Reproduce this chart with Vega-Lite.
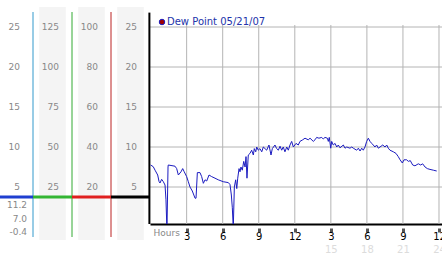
{
  "$schema": "https://vega.github.io/schema/vega-lite/v6.json",
  "padding": 0,
  "spacing": 0,
  "bounds": "flush",
  "background": "white",
  "config": {"view": {"stroke": null}, "font": "DejaVu Sans"},
  "hconcat": [
    {
      "width": 150,
      "height": 224,
      "layer": [
        {
          "layer": [
            {
              "data": {"values": [{"col": "c2"}, {"col": "c3"}, {"col": "c4"}]},
              "mark": {"type": "bar", "color": "#f4f4f4", "width": {"band": 0.68}},
              "encoding": {
                "x": {"field": "col", "type": "nominal", "scale": {"domain": ["c1", "c2", "c3", "c4"], "range": [-6, 150], "paddingInner": 0, "paddingOuter": 0}, "axis": null},
                "y": {"datum": 27.5, "type": "quantitative", "scale": {"domain": [0.375, 28.375], "nice": false, "zero": false}, "axis": null},
                "y2": {"datum": -1.625}
              }
            },
            {
              "data": {"values": [{"col": "c1"}, {"col": "c2"}, {"col": "c3"}]},
              "mark": {"type": "rule", "strokeWidth": 1},
              "encoding": {
                "x": {"field": "col", "type": "nominal", "bandPosition": 1, "axis": null},
                "y": {"datum": 26.875, "type": "quantitative", "axis": null},
                "y2": {"datum": -1.25},
                "stroke": {"field": "col", "type": "nominal", "scale": {"domain": ["c1", "c2", "c3"], "range": ["#3399cc", "#33aa33", "#bb2222"]}, "legend": null}
              }
            },
            {
              "data": {"values": [{"col": "c1"}, {"col": "c2"}, {"col": "c3"}, {"col": "c4"}]},
              "mark": {"type": "bar", "clip": true},
              "encoding": {
                "x": {"field": "col", "type": "nominal", "axis": null},
                "y": {"datum": 3.9375, "type": "quantitative", "axis": null},
                "y2": {"datum": 3.5625},
                "fill": {"field": "col", "type": "nominal", "scale": {"domain": ["c1", "c2", "c3", "c4"], "range": ["#1f3fd0", "#33b533", "#e02020", "#000000"]}, "legend": null}
              }
            },
            {
              "data": {"values": [
                {"col": "c1", "level": 5, "label": "5"}, {"col": "c1", "level": 10, "label": "10"}, {"col": "c1", "level": 15, "label": "15"}, {"col": "c1", "level": 20, "label": "20"}, {"col": "c1", "level": 25, "label": "25"},
                {"col": "c2", "level": 5, "label": "25"}, {"col": "c2", "level": 10, "label": "50"}, {"col": "c2", "level": 15, "label": "75"}, {"col": "c2", "level": 20, "label": "100"}, {"col": "c2", "level": 25, "label": "125"},
                {"col": "c3", "level": 5, "label": "20"}, {"col": "c3", "level": 10, "label": "40"}, {"col": "c3", "level": 15, "label": "60"}, {"col": "c3", "level": 20, "label": "80"}, {"col": "c3", "level": 25, "label": "100"},
                {"col": "c4", "level": 5, "label": "5"}, {"col": "c4", "level": 10, "label": "10"}, {"col": "c4", "level": 15, "label": "15"}, {"col": "c4", "level": 20, "label": "20"}, {"col": "c4", "level": 25, "label": "25"}
              ]},
              "mark": {"type": "text", "align": "right", "baseline": "middle", "fontSize": 9, "color": "#888888"},
              "encoding": {
                "x": {"field": "col", "type": "nominal", "bandPosition": 0.667, "axis": null},
                "y": {"field": "level", "type": "quantitative", "axis": null},
                "text": {"field": "label"}
              }
            }
          ]
        },
        {
          "data": {"values": [{"col": "c1", "order": 0, "label": "11.2"}, {"col": "c1", "order": 1, "label": "7.0"}, {"col": "c1", "order": 2, "label": "-0.4"}]},
          "mark": {"type": "text", "align": "right", "baseline": "middle", "fontSize": 9, "color": "#888888"},
          "encoding": {
            "x": {"field": "col", "type": "nominal", "bandPosition": 0.846, "axis": null},
            "y": {"field": "order", "type": "ordinal", "scale": {"type": "point", "range": [205, 232], "padding": 0}, "axis": null},
            "text": {"field": "label"}
          }
        }
      ],
      "resolve": {"scale": {"y": "independent"}}
    },
    {
      "width": 292,
      "height": 224,
      "layer": [
        {
          "data": {"values": [{"level": 5}, {"level": 10}, {"level": 15}, {"level": 20}, {"level": 25}]},
          "mark": {"type": "rule", "color": "#b4b4b4", "strokeWidth": 1},
          "encoding": {
            "y": {"field": "level", "type": "quantitative", "scale": {"domain": [0.375, 28.375], "nice": false, "zero": false},
              "axis": {"values": [5, 10, 15, 20, 25], "labels": false, "domain": false, "ticks": true, "tickSize": 4, "tickWidth": 3, "tickColor": "#555555", "grid": false, "title": null}}
          }
        },
        {
          "data": {"values": [{"hour": 3}, {"hour": 6}, {"hour": 9}, {"hour": 12}, {"hour": 15}, {"hour": 18}, {"hour": 21}, {"hour": 24}]},
          "mark": {"type": "rule", "color": "#b4b4b4", "strokeWidth": 1},
          "encoding": {
            "x": {"field": "hour", "type": "quantitative", "scale": {"domain": [-0.05, 24.25], "nice": false, "zero": false},
              "axis": {"orient": "bottom", "values": [3, 6, 9, 12, 15, 18, 21, 24], "labelExpr": "datum.value % 12 == 0 ? '12' : toString(datum.value % 12)", "labelFontSize": 10, "labelColor": "#000000", "labelPadding": -1, "labelOverlap": false, "ticks": true, "tickSize": 8, "tickWidth": 3, "tickColor": "#555555", "tickDash": [4, 4], "tickDashOffset": 4, "domain": true, "domainColor": "#000000", "domainWidth": 2, "grid": false,
                "title": "Hours", "titleX": 3, "titleY": 8, "titleAlign": "left", "titleBaseline": "middle", "titleAnchor": "start", "titleFontSize": 9, "titleFontWeight": "normal", "titleColor": "#888888"}},
            "y": {"datum": 0.375, "type": "quantitative", "axis": null},
            "y2": {"datum": 25.25}
          }
        },
        {
          "data": {"values": [{"edge": "left"}]},
          "mark": {"type": "rule", "color": "#000000", "strokeWidth": 2},
          "encoding": {
            "x": {"datum": -0.1, "type": "quantitative", "axis": null},
            "y": {"datum": 0.375, "type": "quantitative", "axis": null},
            "y2": {"datum": 26.8}
          }
        },
        {
          "data": {"values": [
            {"h": 0.0, "dp": 7.75}, {"h": 0.22, "dp": 7.54}, {"h": 0.37, "dp": 7.1}, {"h": 0.59, "dp": 6.5}, {"h": 0.7, "dp": 5.7}, {"h": 0.78, "dp": 5.5}, {"h": 0.92, "dp": 5.96}, {"h": 1.06, "dp": 5.66}, {"h": 1.2, "dp": 5.25}, {"h": 1.28, "dp": 3.4}, {"h": 1.36, "dp": -0.4}, {"h": 1.45, "dp": 7.5}, {"h": 1.47, "dp": 7.75},
            {"h": 2.03, "dp": 7.6}, {"h": 2.17, "dp": 7.3}, {"h": 2.31, "dp": 6.5}, {"h": 2.53, "dp": 6.9}, {"h": 2.67, "dp": 7.3}, {"h": 2.8, "dp": 6.9}, {"h": 3.0, "dp": 6.3}, {"h": 3.14, "dp": 5.66}, {"h": 3.28, "dp": 5.0}, {"h": 3.47, "dp": 4.5}, {"h": 3.7, "dp": 3.6}, {"h": 3.78, "dp": 3.6}, {"h": 3.89, "dp": 6.8},
            {"h": 4.11, "dp": 6.8}, {"h": 4.25, "dp": 6.3}, {"h": 4.39, "dp": 5.46}, {"h": 4.53, "dp": 5.9}, {"h": 4.67, "dp": 5.75}, {"h": 4.86, "dp": 6.5}, {"h": 5.08, "dp": 6.3}, {"h": 5.36, "dp": 6.1}, {"h": 5.63, "dp": 5.9}, {"h": 6.05, "dp": 5.66}, {"h": 6.47, "dp": 5.55}, {"h": 6.61, "dp": 5.3}, {"h": 6.72, "dp": 4.0}, {"h": 6.8, "dp": 2.4}, {"h": 6.88, "dp": -0.1},
            {"h": 6.97, "dp": 5.0}, {"h": 7.08, "dp": 5.9}, {"h": 7.17, "dp": 4.8}, {"h": 7.25, "dp": 6.1}, {"h": 7.36, "dp": 7.3}, {"h": 7.44, "dp": 6.9}, {"h": 7.52, "dp": 7.5}, {"h": 7.63, "dp": 7.1}, {"h": 7.75, "dp": 8.2}, {"h": 7.86, "dp": 7.5}, {"h": 7.94, "dp": 8.8}, {"h": 8.02, "dp": 6.1}, {"h": 8.13, "dp": 9.0},
            {"h": 8.27, "dp": 9.2}, {"h": 8.41, "dp": 9.6}, {"h": 8.55, "dp": 9.0}, {"h": 8.63, "dp": 9.8}, {"h": 8.75, "dp": 9.4}, {"h": 8.83, "dp": 10.0}, {"h": 8.96, "dp": 9.6}, {"h": 9.1, "dp": 9.8}, {"h": 9.25, "dp": 9.4}, {"h": 9.38, "dp": 10.0}, {"h": 9.52, "dp": 9.8}, {"h": 9.66, "dp": 9.6}, {"h": 9.85, "dp": 10.25},
            {"h": 10.02, "dp": 9.0}, {"h": 10.13, "dp": 9.8}, {"h": 10.35, "dp": 10.25}, {"h": 10.49, "dp": 9.8}, {"h": 10.63, "dp": 9.6}, {"h": 10.77, "dp": 10.1}, {"h": 10.91, "dp": 9.6}, {"h": 11.04, "dp": 10.0}, {"h": 11.18, "dp": 9.4}, {"h": 11.33, "dp": 10.0}, {"h": 11.46, "dp": 9.6}, {"h": 11.6, "dp": 10.25}, {"h": 11.74, "dp": 10.7}, {"h": 11.88, "dp": 10.0},
            {"h": 12.1, "dp": 10.45}, {"h": 12.29, "dp": 10.25}, {"h": 12.43, "dp": 10.7}, {"h": 12.66, "dp": 10.9}, {"h": 12.85, "dp": 11.1}, {"h": 13.12, "dp": 10.9}, {"h": 13.27, "dp": 11.1}, {"h": 13.54, "dp": 10.7}, {"h": 13.68, "dp": 10.9}, {"h": 13.82, "dp": 11.2}, {"h": 14.01, "dp": 11.1}, {"h": 14.24, "dp": 11.2}, {"h": 14.37, "dp": 11.0}, {"h": 14.51, "dp": 11.2},
            {"h": 14.71, "dp": 11.1}, {"h": 14.79, "dp": 10.7}, {"h": 14.87, "dp": 11.2}, {"h": 14.99, "dp": 9.85}, {"h": 15.07, "dp": 10.7}, {"h": 15.2, "dp": 10.25}, {"h": 15.35, "dp": 10.45}, {"h": 15.49, "dp": 10.0}, {"h": 15.62, "dp": 10.25}, {"h": 15.76, "dp": 9.9}, {"h": 16.04, "dp": 10.25}, {"h": 16.18, "dp": 9.85}, {"h": 16.32, "dp": 10.0},
            {"h": 16.59, "dp": 9.85}, {"h": 16.74, "dp": 10.0}, {"h": 16.87, "dp": 9.85}, {"h": 17.15, "dp": 9.6}, {"h": 17.29, "dp": 9.85}, {"h": 17.43, "dp": 9.5}, {"h": 17.57, "dp": 9.85}, {"h": 17.7, "dp": 9.6}, {"h": 17.84, "dp": 10.0}, {"h": 17.98, "dp": 10.7}, {"h": 18.12, "dp": 11.1}, {"h": 18.26, "dp": 10.7}, {"h": 18.4, "dp": 10.45},
            {"h": 18.53, "dp": 10.25}, {"h": 18.67, "dp": 10.0}, {"h": 18.81, "dp": 10.25}, {"h": 18.95, "dp": 9.85}, {"h": 19.09, "dp": 10.0}, {"h": 19.32, "dp": 10.25}, {"h": 19.51, "dp": 10.0}, {"h": 19.65, "dp": 10.25}, {"h": 19.78, "dp": 9.85}, {"h": 19.92, "dp": 9.6}, {"h": 20.2, "dp": 9.4}, {"h": 20.42, "dp": 9.2}, {"h": 20.61, "dp": 8.8},
            {"h": 20.76, "dp": 8.4}, {"h": 20.95, "dp": 8.0}, {"h": 21.09, "dp": 8.4}, {"h": 21.31, "dp": 8.4}, {"h": 21.45, "dp": 8.2}, {"h": 21.61, "dp": 8.3}, {"h": 21.81, "dp": 7.75}, {"h": 22.0, "dp": 7.65}, {"h": 22.28, "dp": 7.9}, {"h": 22.48, "dp": 7.75}, {"h": 22.64, "dp": 7.9}, {"h": 22.84, "dp": 7.5}, {"h": 23.03, "dp": 7.3},
            {"h": 23.25, "dp": 7.2}, {"h": 23.53, "dp": 7.1}, {"h": 23.81, "dp": 7.0}
          ]},
          "mark": {"type": "line", "clip": true, "strokeWidth": 1},
          "encoding": {
            "x": {"field": "h", "type": "quantitative",
              "axis": {"orient": "bottom", "values": [15, 18, 21, 24], "offset": 20, "labelPadding": 0, "ticks": false, "tickSize": 0, "domain": false, "grid": false, "labelColor": "#dcdcdc", "labelFontSize": 10, "labelOverlap": false, "title": null}},
            "y": {"field": "dp", "type": "quantitative", "axis": null},
            "color": {"datum": "Dew Point 05/21/07", "type": "nominal", "scale": {"range": ["#1c1cc0"]},
              "legend": {"title": null, "orient": "none", "legendX": 157, "legendY": 17, "padding": 0, "symbolType": "circle", "symbolSize": 30, "labelFontSize": 10, "labelColor": "#2233aa", "labelOffset": 0,
                "encode": {"symbols": {"update": {"fill": {"value": "#a00000"}, "stroke": {"value": "#400000"}, "strokeWidth": {"value": 1}, "opacity": {"value": 1}}}}}}
          }
        }
      ],
      "resolve": {"axis": {"x": "independent"}}
    }
  ]
}
